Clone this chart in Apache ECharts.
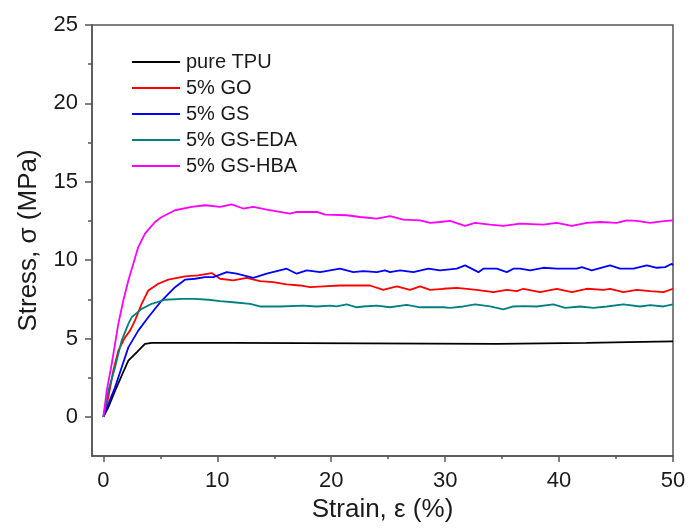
<!DOCTYPE html>
<html>
<head>
<meta charset="utf-8">
<script src="https://cdn.jsdelivr.net/npm/echarts@6/dist/echarts.min.js"></script>
<style>
  html, body { margin: 0; padding: 0; background: #fff; }
  #chart { width: 691px; height: 528px; }
</style>
</head>
<body>
<div id="chart"></div>
<script>
// stress-strain curves, [strain %, stress MPa]
var pureTPU = [[0,0],[0.43,0.6],[1.02,1.66],[1.6,2.62],[2.19,3.58],[2.92,4.11],[3.65,4.65],[4.24,4.72],
  [6.58,4.72],[11.4,4.72],[11.47,4.65],[34.6,4.65],[34.62,4.72],[42.4,4.72],[42.43,4.78],[47.3,4.78],[47.35,4.82],[50,4.82]];

var go5 = [[0,0],[0.43,1.24],[0.87,2.94],[1.31,4.22],[1.9,5.07],[2.34,5.5],[2.77,6.14],[3.36,7.21],[3.94,8.06],
  [4.82,8.49],[5.7,8.75],[7.16,8.96],[8.33,9.02],[9.51,9.17],[10.24,8.81],[11.4,8.7],[12.58,8.87],[13.75,8.66],
  [14.92,8.59],[16.09,8.45],[17.26,8.38],[18.14,8.27],[19.31,8.32],[20.77,8.38],[22.53,8.38],[23.4,8.38],
  [24.57,8.1],[25.75,8.32],[26.92,8.1],[27.8,8.32],[28.68,8.1],[29.84,8.17],[31.02,8.23],[32.77,8.1],[34.23,7.95],
  [35.41,8.1],[36.29,8.02],[36.87,8.17],[38.33,7.95],[39.8,8.17],[41.12,7.95],[42.43,8.17],[43.89,8.1],[44.48,8.17],
  [45.65,7.95],[46.82,8.1],[48.0,8.02],[49.16,7.95],[50,8.17]];

var gs5 = [[0,0],[0.43,0.81],[1.02,1.88],[1.6,3.15],[2.19,4.43],[3.06,5.5],[3.94,6.35],[5.12,7.42],[6.29,8.27],
  [7.16,8.75],[8.04,8.81],[8.92,8.91],[9.65,8.91],[10.83,9.23],[11.7,9.13],[13.16,8.87],[14.34,9.13],[15.22,9.3],
  [16.09,9.45],[16.97,9.13],[17.85,9.34],[19.02,9.23],[19.9,9.34],[20.77,9.45],[21.94,9.23],[22.82,9.3],[24.0,9.23],
  [24.72,9.34],[25.16,9.23],[26.04,9.34],[27.21,9.23],[28.53,9.45],[29.55,9.34],[31.02,9.45],[31.75,9.66],[32.92,9.23],
  [33.35,9.45],[34.53,9.45],[35.41,9.23],[35.99,9.45],[36.58,9.45],[37.45,9.34],[38.62,9.51],[39.8,9.45],[41.55,9.45],
  [41.99,9.55],[42.87,9.34],[44.48,9.66],[45.36,9.45],[46.52,9.45],[47.7,9.66],[48.58,9.51],[49.31,9.55],[49.9,9.77],[50,9.66]];

var gsEDA5 = [[0,0],[0.43,1.66],[1.02,3.15],[1.6,4.86],[2.19,5.93],[2.48,6.35],[3.36,6.89],[4.24,7.21],[5.41,7.47],
  [6.87,7.53],[8.04,7.53],[9.21,7.47],[10.24,7.38],[11.4,7.31],[12.87,7.21],[13.75,7.04],[15.5,7.04],[17.55,7.1],
  [18.73,7.04],[19.9,7.1],[20.48,7.04],[21.36,7.17],[22.24,6.99],[22.82,7.04],[24.0,7.1],[25.16,6.99],[26.63,7.14],
  [27.8,6.99],[29.84,6.99],[30.43,6.95],[31.6,7.04],[32.63,7.17],[33.94,7.04],[35.11,6.85],[35.99,7.04],[36.87,7.06],
  [38.04,7.04],[39.5,7.17],[40.53,6.95],[41.84,7.04],[43.01,6.95],[44.19,7.04],[45.65,7.17],[47.11,7.04],[48.0,7.12],
  [49.16,7.04],[50,7.17]];

var gsHBA5 = [[0,0],[0.29,1.66],[0.73,3.37],[1.31,5.93],[1.75,7.42],[2.19,8.7],[2.63,9.77],[3.06,10.83],[3.65,11.69],
  [4.53,12.43],[5.12,12.75],[6.29,13.18],[7.75,13.39],[8.92,13.5],[10.24,13.39],[11.26,13.56],[12.28,13.29],
  [13.16,13.39],[14.34,13.22],[16.38,12.97],[16.97,13.07],[18.73,13.07],[19.46,12.9],[21.36,12.86],[22.53,12.75],
  [24.0,12.65],[25.16,12.8],[26.33,12.58],[27.8,12.54],[28.68,12.37],[29.55,12.43],[30.43,12.5],[31.75,12.18],
  [32.63,12.37],[33.94,12.26],[35.11,12.18],[36.58,12.33],[38.62,12.26],[39.8,12.37],[41.12,12.18],[42.43,12.37],
  [43.6,12.43],[45.07,12.37],[45.94,12.54],[46.82,12.5],[48.0,12.37],[49.16,12.48],[50,12.54]];

var seriesNames = ['pure TPU', '5% GO', '5% GS', '5% GS-EDA', '5% GS-HBA'];
var seriesColors = ['#000000', '#ff0000', '#0000ff', '#008080', '#ff00ff'];
var seriesData = [pureTPU, go5, gs5, gsEDA5, gsHBA5];

var xMajor = [0, 10, 20, 30, 40, 50];
var xMinor = [5, 15, 25, 35, 45];
var yMajor = [0, 5, 10, 15, 20, 25];
var yMinor = [2.5, 7.5, 12.5, 17.5, 22.5];

var font = 'Arial, "Liberation Sans", sans-serif';
var axisColor = '#555';
var textColor = '#1a1a1a';

var myChart = echarts.init(document.getElementById('chart'), null, { renderer: 'canvas' });

var option = {
  animation: false,
  grid: {
    left: 92, top: 25, right: 18, bottom: 72,
    show: true, borderColor: axisColor, borderWidth: 1.5
  },
  legend: {
    orient: 'vertical',
    left: 127, top: 47,
    icon: 'rect',
    itemWidth: 48, itemHeight: 2, itemGap: 6,
    data: seriesNames,
    textStyle: { fontFamily: font, fontSize: 20, color: textColor, padding: [0, 0, 0, 1] }
  },
  xAxis: [
    {
      type: 'value', min: -1, max: 50,
      name: 'Strain, ε (%)', nameLocation: 'middle', nameGap: 37,
      nameTextStyle: { fontFamily: font, fontSize: 26, color: textColor },
      axisLine: { onZero: false, lineStyle: { color: axisColor, width: 1.5 } },
      axisTick: { inside: false, length: 6, customValues: xMajor, lineStyle: { color: axisColor, width: 1.5 } },
      axisLabel: { customValues: xMajor, margin: 14, fontFamily: font, fontSize: 22, color: textColor },
      splitLine: { show: false }
    },
    {
      type: 'value', min: -1, max: 50, position: 'bottom',
      axisLine: { show: false, onZero: false },
      axisTick: { inside: false, length: 3, customValues: xMinor, lineStyle: { color: axisColor, width: 1.5 } },
      axisLabel: { show: false },
      splitLine: { show: false }
    }
  ],
  yAxis: [
    {
      type: 'value', min: -2.5, max: 25,
      name: 'Stress, σ (MPa)', nameLocation: 'middle', nameGap: 50,
      nameTextStyle: { fontFamily: font, fontSize: 26, color: textColor },
      axisLine: { show: true, onZero: false, lineStyle: { color: axisColor, width: 1.5 } },
      axisTick: { show: true, inside: false, length: 7, customValues: yMajor, lineStyle: { color: axisColor, width: 1.5 } },
      axisLabel: { customValues: yMajor, margin: 14, fontFamily: font, fontSize: 22, color: textColor },
      splitLine: { show: false }
    },
    {
      type: 'value', min: -2.5, max: 25, position: 'left',
      axisLine: { show: false, onZero: false },
      axisTick: { show: true, inside: false, length: 4, customValues: yMinor, lineStyle: { color: axisColor, width: 1.5 } },
      axisLabel: { show: false },
      splitLine: { show: false }
    }
  ],
  series: seriesNames.map(function (name, i) {
    return {
      name: name,
      type: 'line',
      symbol: 'none',
      data: seriesData[i],
      color: seriesColors[i],
      lineStyle: { width: 1.8, color: seriesColors[i] }
    };
  })
};

myChart.setOption(option);
window.addEventListener('resize', myChart.resize);
</script>
</body>
</html>
